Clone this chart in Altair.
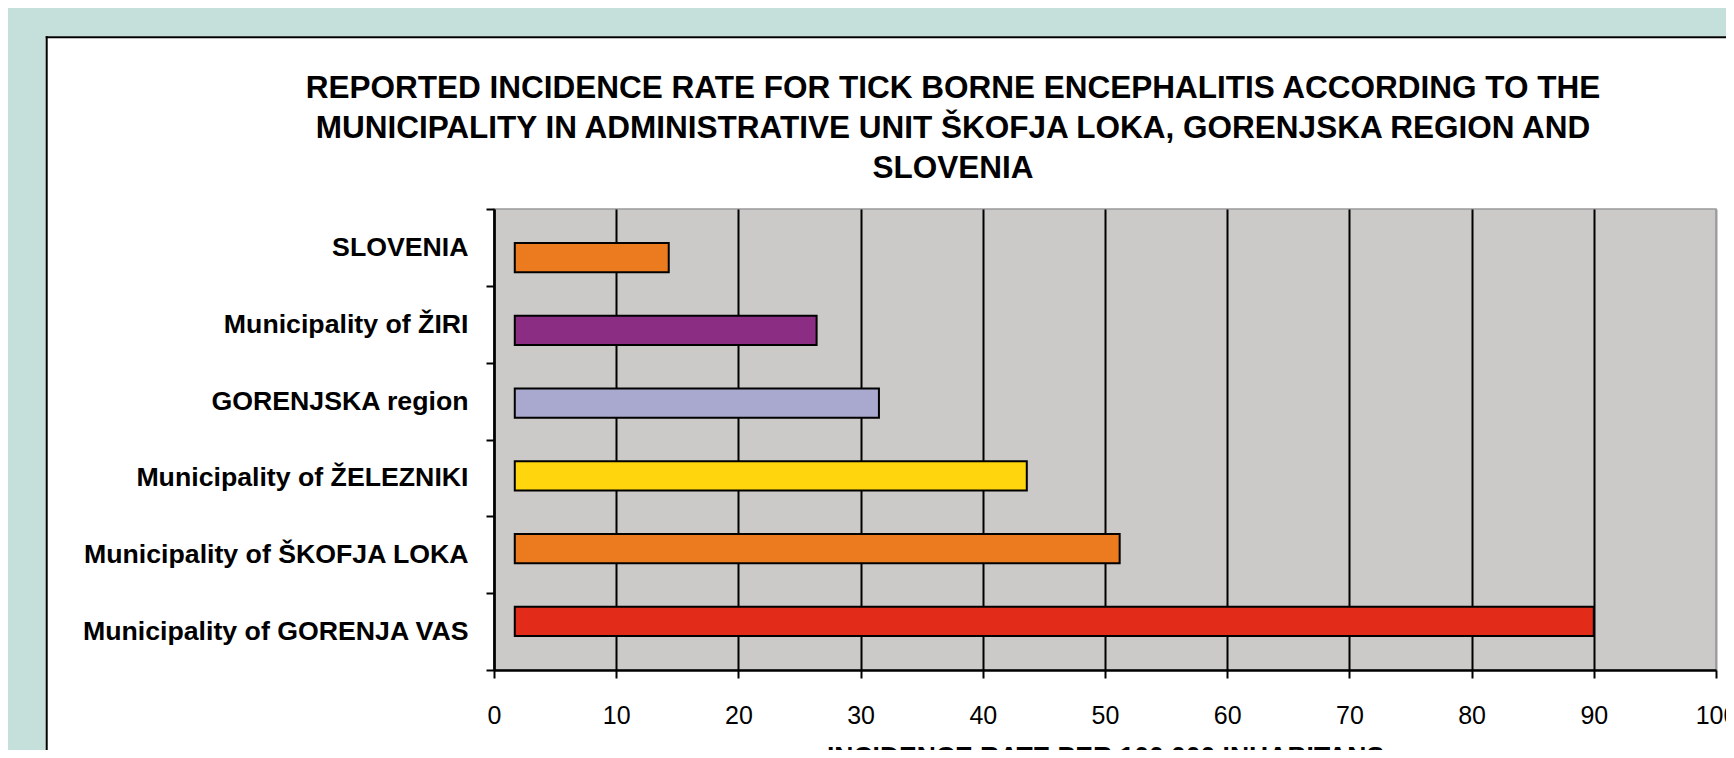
import altair as alt
import pandas as pd

FONT = "Liberation Sans"

# ---- data ----
categories = [
    "SLOVENIA",
    "Municipality of ŽIRI",
    "GORENJSKA region",
    "Municipality of ŽELEZNIKI",
    "Municipality of ŠKOFJA LOKA",
    "Municipality of GORENJA VAS",
]
values = [14.3, 26.4, 31.5, 43.6, 51.2, 90.0]
bar_start = [1.7, 1.7, 1.7, 1.7, 1.7, 1.7]
colors = ["#EC7A1E", "#8B2D82", "#A9A9CF", "#FFD50E", "#EC7A1E", "#E32B1A"]
x_ticks = [0, 10, 20, 30, 40, 50, 60, 70, 80, 90, 100]

title_lines = [
    "REPORTED INCIDENCE RATE FOR TICK BORNE ENCEPHALITIS ACCORDING TO THE",
    "MUNICIPALITY IN ADMINISTRATIVE UNIT ŠKOFJA LOKA, GORENJSKA REGION AND",
    "SLOVENIA",
]
x_title = "INCIDENCE RATE PER 100 000 INHABITANS"

TEAL = "#C5E0DB"
PLOT_BG = "#CBCAC8"

df = pd.DataFrame({"category": categories, "value": values, "start": bar_start})
one = pd.DataFrame({"k": [0]})

x_scale = alt.Scale(domain=[0, 100], nice=False, zero=False)


def make_x_axis():
    return alt.Axis(
        values=x_ticks,
        title=x_title,
        labelFontSize=25,
        labelFont=FONT,
        labelColor="black",
        labelPadding=25,
        labelFlush=False,
        tickSize=8,
        tickWidth=2,
        tickColor="black",
        domainColor="black",
        domainWidth=2.5,
        grid=True,
        gridColor={"condition": {"test": "datum.value === 100", "value": "#9b9b9b"}, "value": "black"},
        gridWidth=2,
        titleFontSize=26.5,
        titleFont=FONT,
        titleFontWeight="bold",
        titleColor="black",
        titleBaseline="alphabetic",
        titleY=94,
    )


y_axis = alt.Axis(
    title=None,
    labelFontSize=26.7,
    labelFont=FONT,
    labelFontWeight="bold",
    labelColor="black",
    labelPadding=18,
    labelLimit=600,
    tickSize=8,
    tickWidth=2,
    tickColor="black",
    tickBand="extent",
    domainColor="black",
    domainWidth=2.5,
    grid=False,
)

# decoration: teal page background strips and the black frame of the panel
teal_top = alt.Chart(one).mark_rect(color=TEAL).encode(
    x=alt.value(-486), x2=alt.value(1232), y=alt.value(-201), y2=alt.value(-172.7)
)
teal_left = alt.Chart(one).mark_rect(color=TEAL).encode(
    x=alt.value(-486), x2=alt.value(-448.3), y=alt.value(-201), y2=alt.value(541)
)
frame_top = alt.Chart(one).mark_rule(color="black", strokeWidth=2).encode(
    x=alt.value(-448.3), x2=alt.value(1232), y=alt.value(-171.7)
)
frame_left = alt.Chart(one).mark_rule(color="black", strokeWidth=2).encode(
    x=alt.value(-447.3), y=alt.value(-172.7), y2=alt.value(541)
)

axis_layer = alt.Chart(df).mark_point(opacity=0).encode(
    x=alt.X("value:Q", scale=x_scale, axis=make_x_axis()),
    y=alt.Y(
        "category:N",
        sort=categories,
        scale=alt.Scale(paddingInner=0, paddingOuter=0),
        axis=y_axis,
    ),
)

bars = alt.Chart(df).mark_bar(stroke="black", strokeWidth=2).encode(
    x=alt.X("start:Q", scale=x_scale, axis=make_x_axis()),
    x2="value:Q",
    y=alt.Y(
        "category:N",
        sort=categories,
        scale=alt.Scale(paddingInner=0.597, paddingOuter=0.4685),
        axis=None,
    ),
    color=alt.Color(
        "category:N", scale=alt.Scale(domain=categories, range=colors), legend=None
    ),
)

chart = (
    alt.layer(teal_top, teal_left, frame_top, frame_left, axis_layer, bars)
    .resolve_scale(y="independent")
    .properties(
        width=1222,
        height=461,
        autosize=alt.AutoSizeParams(type="none"),
        padding={"left": 486, "top": 201, "right": 10, "bottom": 80},
        background="white",
        title=alt.TitleParams(
            text=title_lines,
            fontSize=31.5,
            font=FONT,
            fontWeight="bold",
            color="black",
            lineHeight=40,
            anchor="middle",
            baseline="bottom",
            dx=-152,
            dy=208.5,
            offset=0,
        ),
    )
    .configure_view(fill=PLOT_BG, stroke="#9b9b9b", strokeWidth=1.5)
)

chart.save("out.html", embed_options={"renderer": "svg", "actions": False})
